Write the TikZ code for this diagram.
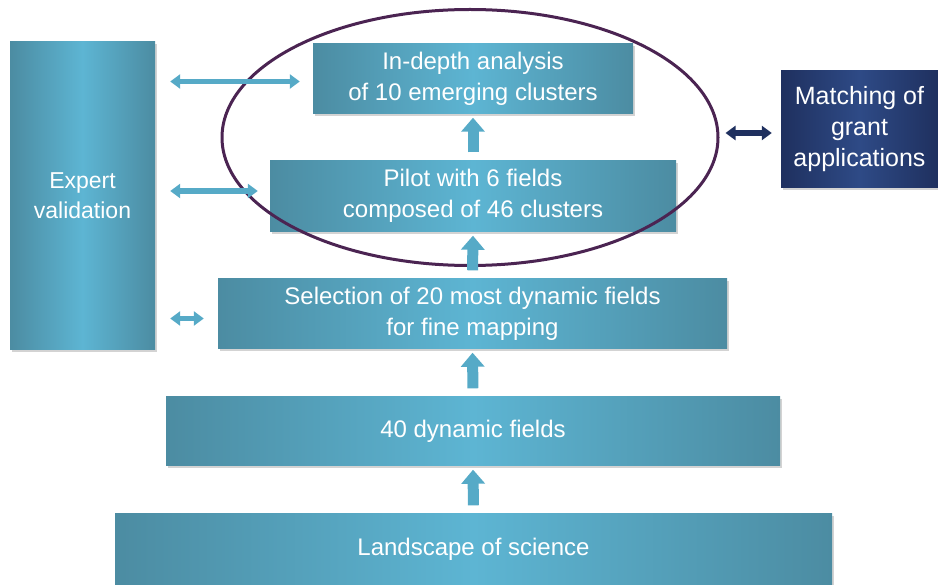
\documentclass[tikz,border=0pt]{standalone}
\usepackage{fontspec}
\setmainfont{Liberation Sans}
\usetikzlibrary{shapes.geometric,arrows.meta,shadows}
\definecolor{tealedge}{HTML}{4C8CA2}
\definecolor{tealmid}{HTML}{5DB5D3}
\definecolor{arrowcol}{HTML}{56AAC7}
\definecolor{navyedge}{HTML}{1F305F}
\definecolor{navymid}{HTML}{2E4A86}
\definecolor{ringcol}{HTML}{4B2452}
\begin{document}
\begin{tikzpicture}[x=1pt,y=-1pt,
  stage/.style={rectangle, left color=tealedge, right color=tealedge,
    middle color=tealmid, text=white, align=center, inner sep=0pt,
    font=\fontsize{24}{31}\selectfont,
    drop shadow={shadow xshift=2pt, shadow yshift=-2.5pt, opacity=0.35}},
  navybox/.style={stage, left color=navyedge, right color=navyedge,
    middle color=navymid, font=\fontsize{25}{31}\selectfont},
  uparrow/.style={draw=arrowcol, line width=11pt,
    -{Triangle[width=23pt,length=14pt]}, shorten <=8pt, shorten >=4pt},
  sidearrow/.style={draw=arrowcol, line width=5.5pt,
    {Triangle[width=14pt,length=10pt]}-{Triangle[width=14pt,length=10pt]}},
  ring/.style={ellipse, draw=ringcol, line width=3pt, inner sep=0pt}]
\useasboundingbox (0,0) rectangle (938,585);

% stages of the funnel
\node[stage, minimum width=145, minimum height=308, font=\fontsize{23}{30}\selectfont]
  (expert) at (82.5,196) {Expert\\validation};
\node[stage, minimum width=320, minimum height=70] (indepth) at (473,78.5)
  {In-depth analysis\\of 10 emerging clusters};
\node[stage, minimum width=406, minimum height=71] (pilot) at (473,196)
  {Pilot with 6 fields\\composed of 46 clusters};
\node[stage, minimum width=509, minimum height=70] (select) at (472.5,313.5)
  {Selection of 20 most dynamic fields\\for fine mapping};
\node[stage, minimum width=614, minimum height=69] (dyn) at (473,431)
  {40 dynamic fields};
\node[stage, minimum width=717, minimum height=71] (land) at (473.5,549)
  {Landscape of science};
\node[navybox, minimum width=157, minimum height=117] (match) at (859.5,129)
  {Matching of\\grant\\applications};

% ring around the two top stages
\node[ring, minimum width=496, minimum height=256] (focus) at (470,137.5) {};

% upward flow
\draw[uparrow] (land.north) -- (dyn.south);
\draw[uparrow] (dyn.north) -- (select.south);
\draw[uparrow] (select.north) -- (pilot.south);
\draw[uparrow] (pilot.north) -- (indepth.south);

% links to expert validation
\draw[sidearrow, shorten <=15pt, shorten >=13pt]
  ([yshift=-3pt]expert.east |- indepth.west) -- ([yshift=-3pt]indepth.west);
\draw[sidearrow, shorten <=15pt, shorten >=12pt]
  ([yshift=5pt]expert.east |- pilot.west) -- ([yshift=5pt]pilot.west);
\draw[sidearrow, shorten <=15pt, shorten >=14pt]
  ([yshift=-5pt]expert.east |- select.west) -- ([yshift=-5pt]select.west);

% link to grant matching
\draw[sidearrow, draw=navyedge, shorten <=6pt, shorten >=9pt]
  ([yshift=-4pt]focus.east |- match.west) -- ([yshift=-4pt]match.west);
\end{tikzpicture}
\end{document}
